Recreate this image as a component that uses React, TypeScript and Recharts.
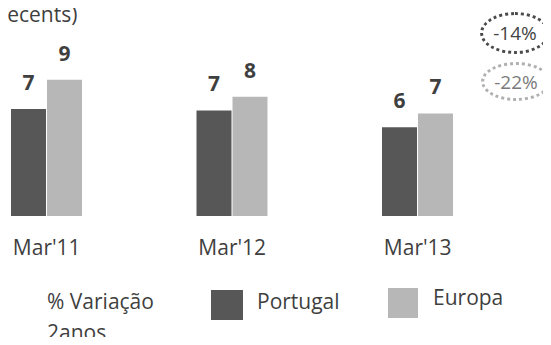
import { BarChart, Bar, XAxis, YAxis, LabelList } from "recharts";

const categories = ["Mar'11", "Mar'12", "Mar'13"];
const portugal = [7.0, 6.9, 5.8];
const europa = [8.9, 7.8, 6.7];
const variations = ["-14%", "-22%"];

const data = categories.map((name, i) => ({
  name,
  portugal: portugal[i],
  europa: europa[i],
}));

const FONT = "'Open Sans', 'Noto Sans', sans-serif";
const TEXT = "#3f3f3f";
const DARK = "#575757";
const LIGHT = "#b7b7b7";

const App = () => {
  return (
    <div
      style={{
        position: "relative",
        width: 551,
        height: 345,
        margin: -8,
        overflow: "hidden",
        background: "#fff",
        fontFamily: FONT,
        color: TEXT,
      }}
    >
      <div
        style={{
          position: "absolute",
          left: 1,
          top: 0,
          fontSize: 21,
          whiteSpace: "nowrap",
        }}
      >
        (ecents)
      </div>

      <div style={{ position: "absolute", left: -45.75, top: 0 }}>
        <BarChart
          width={556.5}
          height={260}
          data={data}
          margin={{ top: 63, right: 0, bottom: 4, left: 0 }}
          barSize={35}
          barGap={1}
        >
          <XAxis
            dataKey="name"
            axisLine={false}
            tickLine={false}
            tickSize={6}
            tickMargin={18}
            height={40}
            tick={{ fill: TEXT, fontSize: 21, fontFamily: FONT }}
          />
          <YAxis hide domain={[0, 10]} />
          <Bar dataKey="portugal" fill={DARK} isAnimationActive={false}>
            <LabelList
              dataKey="portugal"
              position="top"
              offset={19}
              formatter={(v: number) => Math.round(v)}
              style={{ fill: TEXT, fontSize: 21, fontWeight: 700, fontFamily: FONT }}
            />
          </Bar>
          <Bar dataKey="europa" fill={LIGHT} isAnimationActive={false}>
            <LabelList
              dataKey="europa"
              position="top"
              offset={19}
              formatter={(v: number) => Math.round(v)}
              style={{ fill: TEXT, fontSize: 21, fontWeight: 700, fontFamily: FONT }}
            />
          </Bar>
        </BarChart>
      </div>

      {/* variation bubbles */}
      <div
        style={{
          position: "absolute",
          left: 480,
          top: 12,
          width: 64,
          height: 36,
          border: "3px dotted #4a4a4a",
          borderRadius: "50%",
          display: "flex",
          alignItems: "center",
          justifyContent: "center",
          fontSize: 19,
          color: "#444",
        }}
      >
        {variations[0]}
      </div>
      <div
        style={{
          position: "absolute",
          left: 481,
          top: 62,
          width: 64,
          height: 33,
          border: "3px dotted #b0b0b0",
          borderRadius: "50%",
          display: "flex",
          alignItems: "center",
          justifyContent: "center",
          fontSize: 19,
          color: "#7a7a7a",
        }}
      >
        {variations[1]}
      </div>

      {/* legend */}
      <div
        style={{
          position: "absolute",
          left: 47,
          top: 286,
          fontSize: 21,
          lineHeight: "31px",
        }}
      >
        % Variação
        <br />
        2anos
      </div>
      <div
        style={{
          position: "absolute",
          left: 211,
          top: 290,
          width: 32,
          height: 30,
          background: DARK,
        }}
      />
      <div
        style={{
          position: "absolute",
          left: 257,
          top: 286,
          fontSize: 21,
          lineHeight: "31px",
        }}
      >
        Portugal
      </div>
      <div
        style={{
          position: "absolute",
          left: 388,
          top: 288,
          width: 30,
          height: 30,
          background: LIGHT,
        }}
      />
      <div
        style={{
          position: "absolute",
          left: 433,
          top: 282,
          fontSize: 21,
          lineHeight: "31px",
        }}
      >
        Europa
      </div>
    </div>
  );
};

export default App;
